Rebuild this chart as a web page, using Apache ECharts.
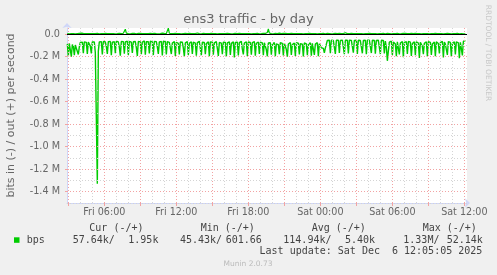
<!DOCTYPE html>
<html><head><meta charset="utf-8">
<script src="https://cdn.jsdelivr.net/npm/echarts@6/dist/echarts.min.js"></script>
<style>html,body{margin:0;padding:0;background:#f0f0f0;}#c{width:497px;height:275px;}</style>
</head><body><div id="c"></div>
<script>
// inbound traffic (kbit/s, drawn negative), one sample every 5 minutes from Fri 02:55
const inKbps = [
-88,-196,-84,-142,-201,-93,-112,-188,-98,-126,-134,-182,-114,
-74,-68,-72,-171,-70,-66,-74,-178,-72,-69,-108,-173,-70,-67,-71,-166,
-168,-1330,-152,
-70,-64,-68,-182,-66,-62,-71,-112,-176,-68,-63,-66,-188,-72,-65,-69,-170,
-64,-61,-70,-118,-192,-67,-63,-68,-174,-70,-66,-64,-186,-65,-62,-73,-168,
-69,-64,-67,-121,-195,-66,-63,-70,-179,-71,-65,-62,-184,-68,-64,-69,-172,
-63,-67,-70,-187,-66,-62,-68,-115,-176,-70,-65,-67,-190,-64,-69,-66,-181,-68,-72,
-75,-70,-178,-80,-72,-68,-195,-74,-69,-84,-182,-71,-66,-73,-125,-199,
-78,-70,-67,-185,-82,-74,-69,-176,-72,-68,-80,-192,-76,-71,-66,-130,-188,
-73,-69,-75,-180,-84,-77,-70,-197,-70,-66,-72,-183,-79,-73,-68,-128,-194,
-75,-70,-81,-179,-72,-67,-74,-202,-78,-71,-69,-186,-83,-75,-70,-208,
-74,-68,-72,-190,-77,-70,-66,-135,-181,-80,-73,-69,-196,-71,-67,-75,-184,
-76,-70,-68,-193,-82,-74,-71,-177,-73,-68,-79,-188,-78,-72,-140,-198,-80,
-86,-78,-184,-92,-80,-75,-197,-88,-82,-94,-179,-76,-90,-84,-190,
-81,-77,-138,-201,-89,-83,-76,-186,-94,-85,-80,-195,-78,-88,-82,-181,
-85,-79,-91,-199,-80,-76,-87,-188,-92,-84,-78,-193,-83,-79,-185,-90,-84,-77,-196,-86,-81,
-122,-130,-128,-168,-126,-133,
-57,-55,-56,-170,-56,-46,-58,-60,-176,-55,-57,-56,-168,-58,-55,-54,-57,-179,
-56,-58,-55,-173,-54,-56,-57,-59,-166,-57,-55,-56,-177,-55,-54,-58,-56,-171,
-58,-56,-55,-180,-56,-57,-54,-58,-169,-55,-56,-58,-174,-57,-55,-56,-59,-178,
-56,-54,-57,-172,-62,
-120,-238,-150,-72,
-68,-64,-185,-72,-66,-88,-198,-70,-65,-182,-80,-71,-67,-205,-74,-90,-69,-176,
-66,-63,-72,-194,-85,-76,-70,-188,-69,-64,-80,-212,-73,-68,-110,-179,
-82,-75,-69,-200,-67,-63,-74,-185,-88,-78,-71,-196,-70,-66,-84,-172,
-76,-69,-65,-208,-72,-90,-80,-186,-68,-64,-75,-199,-83,-74,-70,-181,
-69,-65,-78,-215,-74,-70,-190,-66,-62,-57.64
];
// outbound traffic (kbit/s, drawn positive)
const outKbps = [
3,4,2,5,3,6,4,3,2,5,4,3,6,4,8,12,5,3,4,2,
3,5,4,6,3,2,4,5,3,4,6,3,2,5,4,3,4,6,5,3,
4,2,3,5,4,6,3,4,2,5,3,4,6,5,3,4,7,10,42,8,
4,3,5,2,4,6,3,5,4,2,3,5,4,6,3,4,5,3,2,4,
6,3,4,5,2,4,3,6,5,3,4,2,5,3,6,8,15,5,3,4,
9,52.14,7,4,3,5,4,2,6,3,4,5,3,4,2,6,4,10,5,3,
4,3,5,2,4,6,3,5,4,3,9,4,3,5,2,4,6,3,4,5,
3,7,4,2,5,3,4,6,3,5,2,4,3,6,4,5,3,2,4,5,
6,3,4,5,2,4,3,6,5,3,4,2,5,3,4,6,3,5,4,2,
3,5,4,6,2,4,3,5,4,3,6,4,2,5,3,4,6,3,5,8,
14,46,9,4,3,5,2,4,6,3,4,5,8,3,4,2,5,3,6,4,
3,5,4,2,6,3,4,5,3,2,4,6,3,5,4,3,2,5,4,6,
3,4,5,2,4,6,3,5,4,3,2,5,4,6,3,4,5,3,2,4,
6,3,4,5,2,4,3,6,5,3,4,2,5,3,4,6,3,5,11,4,
3,5,4,2,6,3,4,5,3,2,4,6,3,5,4,3,2,5,4,6,
3,4,5,2,4,6,3,5,4,3,2,5,4,6,3,4,5,3,2,4,
5,3,4,6,2,4,3,5,4,3,6,4,2,5,3,4,6,3,5,4,
3,5,4,10,6,3,4,2,5,3,4,6,3,5,2,4,3,6,4,5,
3,4,2,5,3,6,4,3,5,2,4,6,3,5,4,3,2,5,4,3,
5,3,4,6,2,4,3,5,4,3,6,4,2,5,3,4,0.6,3,1.95
];
const startHour = 2 + 55/60;   // Fri 02:55, hours since Fri 00:00
const stepHour = 5/60;

const xLabelValues = [6, 12, 18, 24, 30, 36];
const xLabels = ['Fri 06:00','Fri 12:00','Fri 18:00','Sat 00:00','Sat 06:00','Sat 12:00'];
const xMajorGrid = [3,6,9,12,15,18,21,24,27,30,33,36];
const xMinorGrid = [4,5,7,8,10,11,13,14,16,17,19,20,22,23,25,26,28,29,31,32,34,35];
const yLabelValues = [0,-200000,-400000,-600000,-800000,-1000000,-1200000,-1400000];
const yLabels = ['0.0','-0.2 M','-0.4 M','-0.6 M','-0.8 M','-1.0 M','-1.2 M','-1.4 M'];
const yMajorGrid = [-200000,-400000,-600000,-800000,-1000000,-1200000,-1400000];
const yMinorGrid = [-100000,-300000,-500000,-700000,-900000,-1100000,-1300000,-1500000];

const statHeaders = ['Cur (-/+)','Min (-/+)','Avg (-/+)','Max (-/+)'];
const statIn = ['57.64k/','45.43k/','114.94k/','1.33M/'];
const statOut = ['1.95k','601.66','5.40k','52.14k'];
const seriesName = 'bps';
const lastUpdate = 'Last update: Sat Dec  6 12:05:05 2025';

const inData = inKbps.map((v, i) => [startHour + i * stepHour, v * 1000]);
const outData = outKbps.map((v, i) => [startHour + i * stepHour, v * 1000]);

const RED = '#f2a3a3', GREY = '#d4d4d4', AXIS = '#cfd6f8', GREEN = '#00cc00';
const gridLines = [].concat(
  xMinorGrid.map(v => ({xAxis: v, lineStyle: {color: GREY, type: [1, 2], width: 1}})),
  yMinorGrid.map(v => ({yAxis: v, lineStyle: {color: GREY, type: [1, 2], width: 1}})),
  xMajorGrid.map(v => ({xAxis: v, lineStyle: {color: RED, type: [1, 2], width: 1}})),
  yMajorGrid.map(v => ({yAxis: v, lineStyle: {color: RED, type: [1, 2], width: 1}}))
);

const SANS = '"DejaVu Sans", sans-serif';
const MONO = '"DejaVu Sans Mono", monospace';
function txt(text, x, y, font, color, align, rot) {
  return {type: 'text', x: x, y: y, rotation: rot || 0, silent: true, z: 10,
    style: {text: text, x: 0, y: 0, font: font, fill: color,
      textAlign: align || 'left', align: align || 'left',
      textVerticalAlign: 'middle', verticalAlign: 'middle'}};
}
const hdrX = [89.3, 200.7, 311.7, 422.7];
const inX = [72.7, 180, 283.3, 403.3];
const outX = [128.3, 225.7, 345, 446.7];
const graphics = [
  txt('ens3 traffic - by day', 248.5, 20, '13px ' + SANS, '#666', 'center'),
  txt('bits in (-) / out (+) per second', 11, 115.5, '11px ' + SANS, '#666', 'center', Math.PI / 2),
  txt('RRDTOOL / TOBI OETIKER', 487.5, 53, '7.5px ' + SANS, '#c8c8c8', 'center', -Math.PI / 2),
  {type: 'rect', shape: {x: 14, y: 237.3, width: 5.5, height: 5.5}, style: {fill: GREEN}, silent: true, z: 10},
  txt(seriesName, 26.7, 240, '10px ' + MONO, '#444'),
  txt(lastUpdate, 482.3, 251.7, '10px ' + MONO, '#444', 'right'),
  txt('Munin 2.0.73', 248, 264.3, '7.5px ' + SANS, '#bbb', 'center')
];
statHeaders.forEach((h, i) => graphics.push(txt(h, hdrX[i], 228.3, '10px ' + MONO, '#444')));
statIn.forEach((h, i) => graphics.push(txt(h, inX[i], 240, '10px ' + MONO, '#444')));
statOut.forEach((h, i) => graphics.push(txt(h, outX[i], 240, '10px ' + MONO, '#444')));

const chart = echarts.init(document.getElementById('c'), null, {renderer: 'canvas', width: 497, height: 275});
chart.setOption({
  animation: false,
  backgroundColor: '#f0f0f0',
  grid: {left: 67, top: 28, width: 400, height: 175, show: true, backgroundColor: '#ffffff',
         borderWidth: 0, containLabel: false, outerBoundsMode: 'none'},
  xAxis: {
    type: 'value', min: 2.89, max: 36.22,
    splitLine: {show: false},
    axisLine: {show: true, onZero: false, lineStyle: {color: AXIS, width: 1},
               symbol: ['none', 'arrow'], symbolSize: [7, 5], symbolOffset: [0, 3]},
    axisTick: {show: true, customValues: xMajorGrid, length: 3, lineStyle: {color: RED}},
    axisLabel: {customValues: xLabelValues, color: '#666', fontFamily: SANS, fontSize: 9.6, margin: 4,
                formatter: v => xLabels[xLabelValues.indexOf(v)] || ''}
  },
  yAxis: {
    type: 'value', min: -1500000, max: 53300,
    splitLine: {show: false},
    axisLine: {show: true, onZero: false, lineStyle: {color: AXIS, width: 1},
               symbol: ['none', 'arrow'], symbolSize: [7, 5], symbolOffset: [0, 5]},
    axisTick: {show: true, customValues: yLabelValues, length: 2, lineStyle: {color: RED}},
    axisLabel: {customValues: yLabelValues, color: '#666', fontFamily: SANS, fontSize: 9.7, margin: 7,
                formatter: v => { const k = yLabelValues.indexOf(v); return k >= 0 ? yLabels[k] : ''; }}
  },
  graphic: graphics,
  series: [
    {type: 'line', name: 'grid', data: [[startHour, 0]], showSymbol: false, symbol: 'none', silent: true, z: 1,
     lineStyle: {width: 0}, markLine: {silent: true, symbol: ['none', 'none'], animation: false,
       label: {show: false}, emphasis: {disabled: true}, data: gridLines}},
    {type: 'line', name: 'out', data: outData, showSymbol: false, symbol: 'none', silent: true, z: 2,
     lineStyle: {width: 1.2, color: GREEN}, itemStyle: {color: GREEN}, emphasis: {disabled: true}},
    {type: 'line', name: 'zero', data: [[startHour, 0]], showSymbol: false, symbol: 'none', silent: true, z: 3,
     lineStyle: {width: 0}, markLine: {silent: true, symbol: ['none', 'none'], animation: false,
       label: {show: false}, emphasis: {disabled: true},
       data: [{yAxis: 0, lineStyle: {color: '#000000', type: 'solid', width: 1.2}}]}},
    {type: 'line', name: 'in', data: inData, showSymbol: false, symbol: 'none', silent: true, z: 4,
     lineStyle: {width: 1.4, color: GREEN}, itemStyle: {color: GREEN}, emphasis: {disabled: true}}
  ]
});
</script>
</body></html>
